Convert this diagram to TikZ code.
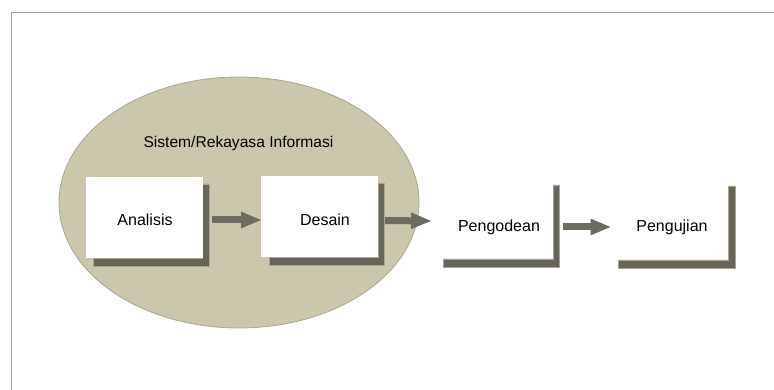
\documentclass[tikz,border=0pt]{standalone}
\usepackage{fontspec}
\setmainfont{Liberation Sans}
\usetikzlibrary{shapes.geometric,arrows.meta,calc}
\definecolor{ellfill}{HTML}{CAC7AD}
\definecolor{elldraw}{HTML}{A9A68F}
\definecolor{shadefill}{HTML}{67655A}
\definecolor{shadedraw}{HTML}{A8A68C}
\definecolor{arrfill}{HTML}{6E6C62}
\definecolor{framecol}{HTML}{A6A596}
\tikzset{
  box/.style={fill=white, minimum width=117pt, minimum height=81pt, inner sep=0pt, outer sep=0pt},
  ghostbox/.style={minimum width=117pt, minimum height=81pt, inner sep=0pt, outer sep=0pt},
  shadowpart/.style={fill=shadefill, draw=shadedraw, line width=0.6pt},
  lbl/.style={font=\fontsize{16}{18}\selectfont, inner sep=0pt},
  blockarrow/.style={draw=arrfill, line width=7pt, -{Triangle[width=15pt,length=21pt]}, shorten >=0pt},
}
\begin{document}
\begin{tikzpicture}[x=1pt,y=-1pt]
\useasboundingbox (0,0) rectangle (774,390);
% frame
\draw[framecol, line width=1pt] (11,390) -- (11,13) -- (774,13);
% ellipse
\node[ellipse, fill=ellfill, draw=elldraw, line width=0.8pt, minimum width=360pt, minimum height=251pt, inner sep=0pt] (sys) at (239,202.5) {};
\node[font=\fontsize{15.6}{17}\selectfont, inner sep=0pt] (systitle) at (238.5,143) {Sistem/Rekayasa Informasi};
% boxes
\node[ghostbox] (analisis) at (144,217.5) {};
\node[ghostbox] (desain) at (319.5,217) {};
\node[ghostbox] (pengodean) at (494.5,218.5) {};
\node[ghostbox] (pengujian) at (670,219.5) {};
% shadows
\foreach \n in {analisis,desain}{
  \draw[shadowpart] ($(\n.north east)+(0,7)$) -- ($(\n.north east)+(6.5,7)$) -- ($(\n.south east)+(6.5,8)$) -- ($(\n.south west)+(8,8)$) -- ($(\n.south west)+(8,0)$) -- (\n.south east) -- cycle;
  \fill[white] (\n.north west) rectangle (\n.south east);
}
\foreach \n in {pengodean,pengujian}{
  \draw[shadowpart] ($(\n.north east)+(0,7)$) -- ($(\n.north east)+(6.5,7)$) -- ($(\n.south east)+(6.5,8)$) -- ($(\n.south west)+(7,8)$) -- ($(\n.south west)+(7,0)$) -- (\n.south east) -- cycle;
}
% labels
\node[lbl] (tanalisis) at (145,220) {Analisis};
\node[lbl] (tdesain) at (325,220) {Desain};
\node[lbl] (tpengodean) at (499,227) {Pengodean};
\node[lbl] (tpengujian) at (672,227) {Pengujian};
% arrows
\draw[blockarrow] ($(analisis.east)+(9,2.5)$) -- ($(desain.west)+(1,3)$);
\draw[blockarrow] ($(desain.east)+(7,3.5)$) -- ($(pengodean.west)+(-4,2.5)$);
\draw[blockarrow] ($(pengodean.east)+(10,8.5)$) -- ($(pengujian.west)+(0,7.5)$);
\end{tikzpicture}
\end{document}
